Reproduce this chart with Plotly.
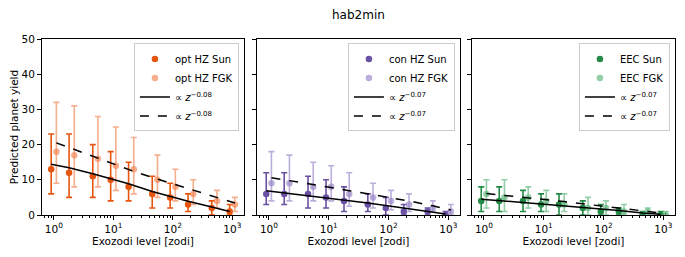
import plotly.graph_objects as go
import numpy as np

# Exozodi levels (Sun points plotted slightly left, FGK slightly right)
x_sun = [0.9, 1.8, 4.5, 9, 18, 45, 90, 180, 450, 900]
x_fgk = [1.1, 2.2, 5.5, 11, 22, 55, 110, 220, 550, 1100]

# Panel 1: opt HZ
opt_sun = [13, 12, 11, 10, 8, 6, 5, 3, 2, 1]
opt_sun_lo = [6, 5, 5, 4, 4, 2, 2, 1, 0, 0]
opt_sun_hi = [23, 23, 20, 18, 15, 11, 9, 6, 4, 3]
opt_fgk = [18, 17, 16, 14, 13, 10, 8, 6, 4, 3]
opt_fgk_lo = [9, 8, 8, 7, 6, 5, 4, 3, 2, 1]
opt_fgk_hi = [32, 31, 28, 25, 22, 17, 13, 10, 7, 5]
opt_fit_sun = [14.4, 13.4, 11.7, 10.3, 8.9, 6.7, 5.3, 3.9, 2.3, 1.0]
opt_fit_fgk = [20.5, 18.6, 16.2, 14.3, 12.4, 10.2, 8.6, 7.0, 4.8, 3.4]

# Panel 2: con HZ
con_sun = [6, 6, 6, 5, 4, 3, 2, 1, 1, 0]
con_sun_lo = [3, 3, 2, 2, 1, 1, 0, 0, 0, 0]
con_sun_hi = [12, 12, 11, 10, 8, 6, 5, 3, 2, 1]
con_fgk = [9, 9, 8, 8, 6, 5, 4, 3, 2, 1]
con_fgk_lo = [4, 4, 4, 4, 2.5, 2, 1.5, 1, 1, 0]
con_fgk_hi = [18, 17, 15, 14, 12, 9, 7, 6, 4, 3]
con_fit_sun = [6.9, 6.3, 5.6, 5.0, 4.3, 3.4, 2.7, 2.0, 1.0, 0.3]
con_fit_fgk = [10.6, 9.8, 8.7, 7.8, 6.9, 5.8, 4.9, 4.0, 2.6, 1.4]

# Panel 3: EEC
eec_sun = [4, 4, 4, 3, 3, 2, 1, 1, 0, 0]
eec_sun_lo = [1, 1, 1, 1, 0, 0, 0, 0, 0, 0]
eec_sun_hi = [8, 8, 7, 6, 6, 4, 3, 2, 1, 1]
eec_fgk = [6, 5, 5, 4, 3, 2, 2, 1, 1, 0]
eec_fgk_lo = [2, 1, 2, 1, 1, 0, 0, 0, 0, 0]
eec_fgk_hi = [10, 10, 8, 7, 6, 5, 4, 3, 2, 1]
eec_fit_sun = [4.5, 4.1, 3.6, 3.2, 2.8, 2.2, 1.7, 1.3, 0.6, 0.2]
eec_fit_fgk = [6.1, 5.6, 4.9, 4.4, 3.8, 3.0, 2.4, 1.8, 1.0, 0.4]

labels = ["opt HZ", "con HZ", "EEC"]
exponents = ["−0.08", "−0.07", "−0.07"]
major_ticks = [1, 10, 100, 1000]
major_text = ["10<sup>0</sup>", "10<sup>1</sup>", "10<sup>2</sup>", "10<sup>3</sup>"]
minor_ticks = [m * 10 ** k for k in range(-1, 4) for m in range(2, 10)]
y_ticks = [0, 10, 20, 30, 40, 50]

colors_sun = ["#e6550d", "#6a51a3", "#238b45"]
colors_fgk = ["rgba(241,130,80,0.65)", "rgba(150,130,200,0.65)", "rgba(90,180,120,0.65)"]

panels = [
    (opt_sun, opt_sun_lo, opt_sun_hi, opt_fgk, opt_fgk_lo, opt_fgk_hi, opt_fit_sun, opt_fit_fgk),
    (con_sun, con_sun_lo, con_sun_hi, con_fgk, con_fgk_lo, con_fgk_hi, con_fit_sun, con_fit_fgk),
    (eec_sun, eec_sun_lo, eec_sun_hi, eec_fgk, eec_fgk_lo, eec_fgk_hi, eec_fit_sun, eec_fit_fgk),
]

W, H = 685, 257
OFF = 8  # page body margin offset
ml, mr, mt, mb = 42 - OFF, 10 + OFF, 39 - OFF, 42 + OFF
pw = W - ml - mr
px = [(42, 244), (257, 460), (472, 675)]
domains = [[(a - 42) / pw, (b - 42) / pw] for a, b in px]

fig = go.Figure()
font = "DejaVu Sans, sans-serif"

for i, (s, slo, shi, f, flo, fhi, fs, ff) in enumerate(panels):
    ax = "" if i == 0 else str(i + 1)
    xa, ya = "x" + ax, "y" + ax
    leg = "legend" if i == 0 else "legend" + str(i + 1)
    s_ = np.array(s, float); f_ = np.array(f, float)
    fig.add_trace(go.Scatter(
        x=x_sun, y=s, mode="markers", name=labels[i] + " Sun",
        marker=dict(color=colors_sun[i], size=6.5),
        error_y=dict(type="data", array=np.array(shi) - s_, arrayminus=s_ - np.array(slo),
                     color=colors_sun[i], thickness=1.6, width=3),
        xaxis=xa, yaxis=ya, legend=leg))
    fig.add_trace(go.Scatter(
        x=x_fgk, y=f, mode="markers", name=labels[i] + " FGK",
        marker=dict(color=colors_fgk[i], size=6.5),
        error_y=dict(type="data", array=np.array(fhi) - f_, arrayminus=f_ - np.array(flo),
                     color=colors_fgk[i], thickness=1.6, width=3),
        xaxis=xa, yaxis=ya, legend=leg))
    fig.add_trace(go.Scatter(
        x=x_sun, y=fs, mode="lines", name="∝ <i>z</i><sup>" + exponents[i] + "</sup>",
        line=dict(color="black", width=1.5), xaxis=xa, yaxis=ya, legend=leg))
    fig.add_trace(go.Scatter(
        x=x_fgk, y=ff, mode="lines", name="∝ <i>z</i><sup>" + exponents[i] + "</sup>",
        line=dict(color="black", width=1.5, dash="dash"), xaxis=xa, yaxis=ya, legend=leg))

    fig.update_layout(**{
        "xaxis" + ax: dict(
            type="log", range=[-0.2, 3.195], domain=domains[i], anchor=ya, automargin=False,
            tickmode="array", tickvals=major_ticks, ticktext=major_text,
            ticks="outside", ticklen=4, tickcolor="black", showgrid=False, zeroline=False,
            showline=True, linecolor="black", linewidth=1, mirror=True,
            minor=dict(tickmode="array", tickvals=minor_ticks, ticks="outside", ticklen=2,
                       tickcolor="black", showgrid=False),
            title=dict(text="Exozodi level [zodi]", standoff=2, font=dict(size=10.5, color="black")),
            tickfont=dict(size=10.5, color="black")),
        "yaxis" + ax: dict(
            range=[0, 50], domain=[0, 1], anchor=xa, automargin=False,
            tickmode="array", tickvals=y_ticks, showticklabels=(i == 0),
            ticks="outside", ticklen=4, tickcolor="black", showgrid=False, zeroline=False,
            showline=True, linecolor="black", linewidth=1, mirror=True,
            title=dict(text="Predicted planet yield" if i == 0 else "", standoff=5,
                       font=dict(size=10.5, color="black")),
            tickfont=dict(size=10.5, color="black")),
        leg: dict(
            x=domains[i][1] - 0.008, xanchor="right", y=0.975, yanchor="top",
            bgcolor="rgba(255,255,255,0.8)", bordercolor="#cccccc", borderwidth=1,
            font=dict(size=10, color="black", family=font), tracegroupgap=0,
            itemwidth=30),
    })

fig.add_annotation(text="hab2min", x=(domains[1][0] + domains[1][1]) / 2, xref="paper",
                   y=1, yref="paper", yshift=15, yanchor="bottom", showarrow=False,
                   font=dict(size=12, color="black", family=font))

fig.update_layout(
    width=W, height=H, margin=dict(l=ml, r=mr, t=mt, b=mb, autoexpand=False),
    plot_bgcolor="white", paper_bgcolor="white",
    font=dict(family=font, size=10.5, color="black"),
    showlegend=True,
)
fig.write_html("out.html")
